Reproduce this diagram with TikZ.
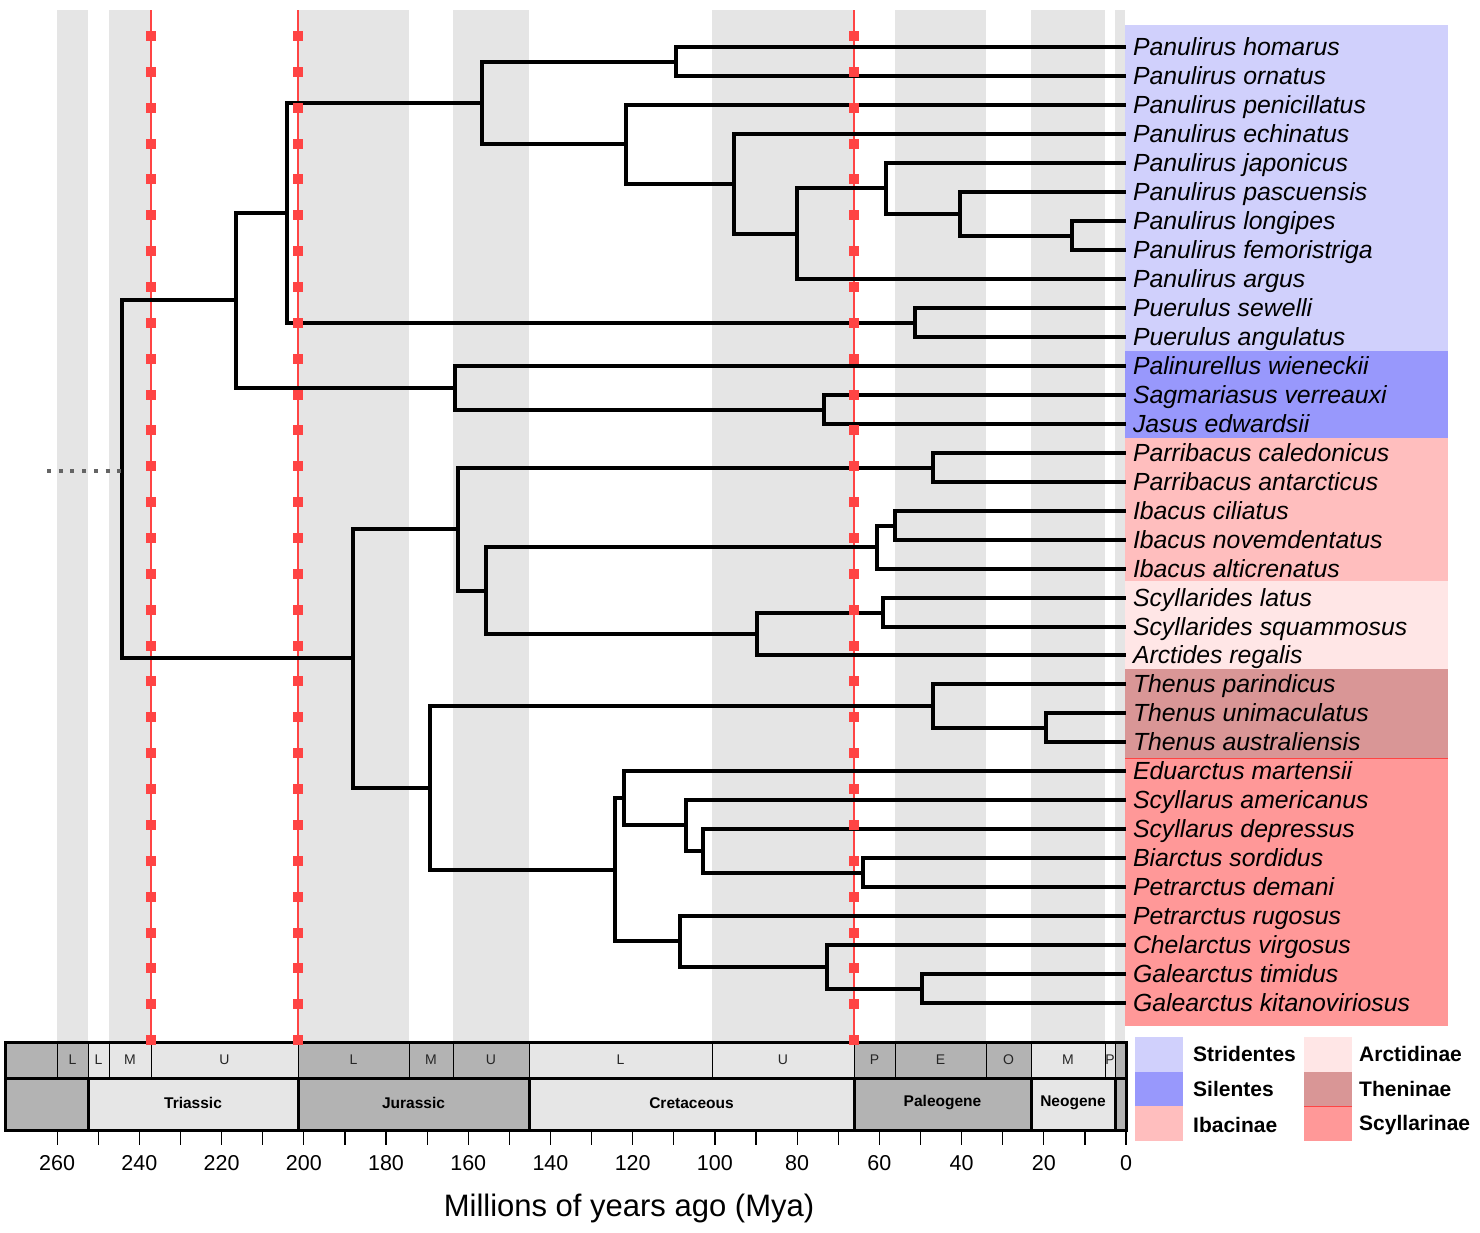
\documentclass[tikz,border=0pt]{standalone}
\usepackage{fontspec}
\setmainfont{Liberation Sans}
\usepackage{tikz}
\usetikzlibrary{calc}

\definecolor{bandgrey}{RGB}{229,229,229}
\definecolor{darkage}{RGB}{179,179,179}
\definecolor{lightage}{RGB}{230,230,230}
\definecolor{strid}{RGB}{208,208,252}
\definecolor{silen}{RGB}{152,152,252}
\definecolor{ibac}{RGB}{255,190,190}
\definecolor{arct}{RGB}{255,230,230}
\definecolor{thenin}{RGB}{217,150,150}
\definecolor{scyl}{RGB}{255,152,152}
\definecolor{kpg}{RGB}{255,68,68}
\definecolor{stemgrey}{RGB}{100,100,100}

\begin{document}
\begin{tikzpicture}[x=1pt,y=-1pt,
	branch/.style={line width=4pt},
	taxon/.style={anchor=west,inner sep=0pt,outer xsep=7pt,text height=17.5pt,text depth=0pt,font=\fontsize{24.8}{24.8}\selectfont\itshape},
	epoch/.style={font=\fontsize{14}{14}\selectfont,text=black!85},
	period/.style={font=\fontsize{15.5}{15.5}\selectfont\bfseries},
	ticklabel/.style={font=\fontsize{21.5}{21.5}\selectfont},
	legendtext/.style={anchor=west,inner sep=0pt,font=\fontsize{21}{21}\selectfont\bfseries}]
	\useasboundingbox (0,0) rectangle (1480,1232);
	% grey epoch bands
	\foreach \a/\b in {57/88,109/151,298/409,453/529,712/854,895/986,1031/1105,1115/1125}
		\fill[bandgrey] (\a,10) rectangle (\b,1042);
	% clade boxes behind the names
	\fill[strid](1125,25)rectangle(1448,351);
	\fill[silen](1125,351)rectangle(1448,438);
	\fill[ibac](1125,438)rectangle(1448,581);
	\fill[arct](1125,581)rectangle(1448,669);
	\fill[thenin](1125,669)rectangle(1448,758);
	\fill[scyl](1125,758)rectangle(1448,1026);
	\draw[kpg,line width=0.8pt](1125,758)--(1448,758);
	% red lines
	\foreach \rx in {151,298,854}
		\draw[kpg,line width=1.2pt] (\rx,10) -- (\rx,1042);
	% tips
	\node[taxon](hom)at(1126,47){Panulirus homarus};
	\node[taxon](orn)at(1126,76){Panulirus ornatus};
	\node[taxon](pen)at(1126,105){Panulirus penicillatus};
	\node[taxon](ech)at(1126,134){Panulirus echinatus};
	\node[taxon](jap)at(1126,163){Panulirus japonicus};
	\node[taxon](pas)at(1126,192){Panulirus pascuensis};
	\node[taxon](lon)at(1126,221){Panulirus longipes};
	\node[taxon](fem)at(1126,250){Panulirus femoristriga};
	\node[taxon](arg)at(1126,279){Panulirus argus};
	\node[taxon](sew)at(1126,308){Puerulus sewelli};
	\node[taxon](ang)at(1126,337){Puerulus angulatus};
	\node[taxon](wie)at(1126,366){Palinurellus wieneckii};
	\node[taxon](ver)at(1126,395){Sagmariasus verreauxi};
	\node[taxon](edw)at(1126,424){Jasus edwardsii};
	\node[taxon](cal)at(1126,453){Parribacus caledonicus};
	\node[taxon](ant)at(1126,482){Parribacus antarcticus};
	\node[taxon](cil)at(1126,511){Ibacus ciliatus};
	\node[taxon](nov)at(1126,540){Ibacus novemdentatus};
	\node[taxon](alt)at(1126,569){Ibacus alticrenatus};
	\node[taxon](lat)at(1126,598){Scyllarides latus};
	\node[taxon](squ)at(1126,627){Scyllarides squammosus};
	\node[taxon](reg)at(1126,655){Arctides regalis};
	\node[taxon](pin)at(1126,684){Thenus parindicus};
	\node[taxon](uni)at(1126,713){Thenus unimaculatus};
	\node[taxon](aus)at(1126,742){Thenus australiensis};
	\node[taxon](mar)at(1126,771){Eduarctus martensii};
	\node[taxon](ame)at(1126,800){Scyllarus americanus};
	\node[taxon](dep)at(1126,829){Scyllarus depressus};
	\node[taxon](sor)at(1126,858){Biarctus sordidus};
	\node[taxon](dem)at(1126,887){Petrarctus demani};
	\node[taxon](rug)at(1126,916){Petrarctus rugosus};
	\node[taxon](vir)at(1126,945){Chelarctus virgosus};
	\node[taxon](tim)at(1126,974){Galearctus timidus};
	\node[taxon](kit)at(1126,1003){Galearctus kitanoviriosus};
	% internal nodes, palinurids
	\coordinate(i1)at(676,61.5);
	\coordinate(i2)at(1072,235.5);
	\coordinate(i3)at(960,213.8);
	\coordinate(i4)at(886,188.4);
	\coordinate(i5)at(797,233.7);
	\coordinate(i6)at(734,183.8);
	\coordinate(i7)at(626,144.4);
	\coordinate(i8)at(482,103);
	\coordinate(i9)at(915,322.5);
	\coordinate(i10)at(287,212.7);
	\coordinate(i11)at(824,409.5);
	\coordinate(i12)at(455,387.7);
	\coordinate(i13)at(236,300.2);
	% internal nodes, scyllarids
	\coordinate(j1)at(933,467.5);
	\coordinate(j2)at(895,525.5);
	\coordinate(j3)at(877,547.2);
	\coordinate(j4)at(883,612.5);
	\coordinate(j5)at(757,633.7);
	\coordinate(j6)at(486,590.5);
	\coordinate(j7)at(458,529);
	\coordinate(j8)at(1046,727.5);
	\coordinate(j9)at(933,705.7);
	\coordinate(j10)at(863,872.5);
	\coordinate(j11)at(703,850.7);
	\coordinate(j12)at(686,825.4);
	\coordinate(j13)at(624,798.2);
	\coordinate(j14)at(922,988.5);
	\coordinate(j15)at(827,966.7);
	\coordinate(j16)at(680,941.4);
	\coordinate(j17)at(615,869.8);
	\coordinate(j18)at(430,787.8);
	\coordinate(j19)at(353,658.4);
	\coordinate(root)at(122,471);
	\coordinate(stem)at(47,471);
	% branches
	\draw[branch](i1)|-(hom.west);
	\draw[branch](i1)|-(orn.west);
	\draw[branch](i2)|-(lon.west);
	\draw[branch](i2)|-(fem.west);
	\draw[branch](i3)|-(pas.west);
	\draw[branch](i3)|-(i2);
	\draw[branch](i4)|-(jap.west);
	\draw[branch](i4)|-(i3);
	\draw[branch](i5)|-(i4);
	\draw[branch](i5)|-(arg.west);
	\draw[branch](i6)|-(ech.west);
	\draw[branch](i6)|-(i5);
	\draw[branch](i7)|-(pen.west);
	\draw[branch](i7)|-(i6);
	\draw[branch](i8)|-(i1);
	\draw[branch](i8)|-(i7);
	\draw[branch](i9)|-(sew.west);
	\draw[branch](i9)|-(ang.west);
	\draw[branch](i10)|-(i8);
	\draw[branch](i10)|-(i9);
	\draw[branch](i11)|-(ver.west);
	\draw[branch](i11)|-(edw.west);
	\draw[branch](i12)|-(wie.west);
	\draw[branch](i12)|-(i11);
	\draw[branch](i13)|-(i10);
	\draw[branch](i13)|-(i12);
	\draw[branch](j1)|-(cal.west);
	\draw[branch](j1)|-(ant.west);
	\draw[branch](j2)|-(cil.west);
	\draw[branch](j2)|-(nov.west);
	\draw[branch](j3)|-(j2);
	\draw[branch](j3)|-(alt.west);
	\draw[branch](j4)|-(lat.west);
	\draw[branch](j4)|-(squ.west);
	\draw[branch](j5)|-(j4);
	\draw[branch](j5)|-(reg.west);
	\draw[branch](j6)|-(j3);
	\draw[branch](j6)|-(j5);
	\draw[branch](j7)|-(j1);
	\draw[branch](j7)|-(j6);
	\draw[branch](j8)|-(uni.west);
	\draw[branch](j8)|-(aus.west);
	\draw[branch](j9)|-(pin.west);
	\draw[branch](j9)|-(j8);
	\draw[branch](j10)|-(sor.west);
	\draw[branch](j10)|-(dem.west);
	\draw[branch](j11)|-(dep.west);
	\draw[branch](j11)|-(j10);
	\draw[branch](j12)|-(ame.west);
	\draw[branch](j12)|-(j11);
	\draw[branch](j13)|-(mar.west);
	\draw[branch](j13)|-(j12);
	\draw[branch](j14)|-(tim.west);
	\draw[branch](j14)|-(kit.west);
	\draw[branch](j15)|-(vir.west);
	\draw[branch](j15)|-(j14);
	\draw[branch](j16)|-(rug.west);
	\draw[branch](j16)|-(j15);
	\draw[branch](j17)|-(j13);
	\draw[branch](j17)|-(j16);
	\draw[branch](j18)|-(j9);
	\draw[branch](j18)|-(j17);
	\draw[branch](j19)|-(j7);
	\draw[branch](j19)|-(j18);
	\draw[branch](root)|-(i13);
	\draw[branch](root)|-(j19);
	\draw[stemgrey,line width=4pt,dash pattern=on 4pt off 7.7pt](stem)--(root);
	% time scale, epochs
	\foreach \a/\b/\c/\t in {5/57/darkage/{},57/88/darkage/L,88/109/lightage/L,109/151/lightage/M,151/298/lightage/U,298/409/darkage/L,409/453/darkage/M,453/529/darkage/U,529/712/lightage/L,712/854/lightage/U,854/895/darkage/P,895/986/darkage/E,986/1031/darkage/O,1031/1105/lightage/M,1105/1115/lightage/P,1115/1126/darkage/{}}
	{
		\filldraw[fill=\c,draw=black,line width=0.8pt](\a,1042)rectangle(\b,1078);
		\node[epoch]at({(\a+\b)/2},1060){\t};
	}
	% time scale, periods
	\foreach \a/\b/\c/\t in {5/88/darkage/{},88/298/lightage/Triassic,298/529/darkage/Jurassic,529/854/lightage/Cretaceous,854/1031/darkage/Paleogene,1031/1115/lightage/Neogene,1115/1126/darkage/{}}
	{
		\filldraw[fill=\c,draw=black,line width=3pt](\a,1078)rectangle(\b,1130);
		\node[period]at({(\a+\b)/2},1103){\t};
	}
	\draw[line width=3pt](5,1042)rectangle(1126,1130);
	% red markers on top
	\foreach \rx in {151,298,854}
		\foreach \k in {0,...,28}
			\fill[kpg]({\rx-5},{36+35.86*\k-5})rectangle++(10,10);
	% axis
	\foreach \t in {0,10,...,260}
		\draw[line width=1.2pt]({1126-4.111*\t},1132)--++(0,13);
	\foreach \t in {0,20,...,260}
		\node[ticklabel]at({1126-4.111*\t},1163){\t};
	\node[font=\fontsize{31}{31}\selectfont]at(629,1208){Millions of years ago (Mya)};
	% legend
	\fill[strid](1135,1037)rectangle(1183,1072);
	\fill[silen](1135,1072)rectangle(1183,1106);
	\fill[ibac](1135,1106)rectangle(1183,1141);
	\fill[arct](1304,1037)rectangle(1352,1072);
	\fill[thenin](1304,1072)rectangle(1352,1106);
	\fill[scyl](1304,1106)rectangle(1352,1141);
	\draw[kpg,line width=0.8pt](1304,1106)--(1352,1106);
	\node[legendtext](lstrid)at(1193,1054){Stridentes};
	\node[legendtext](lsilen)at(1193,1089){Silentes};
	\node[legendtext](libac)at(1193,1125){Ibacinae};
	\node[legendtext](larct)at(1359,1054){Arctidinae};
	\node[legendtext](lthen)at(1359,1089){Theninae};
	\node[legendtext](lscyl)at(1359,1125){Scyllarinae};
\end{tikzpicture}
\end{document}
